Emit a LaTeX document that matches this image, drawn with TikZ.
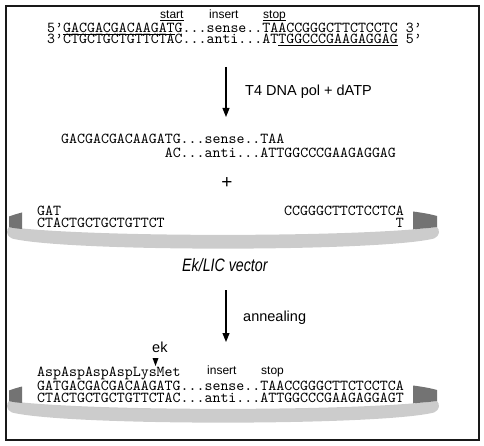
\documentclass[tikz,border=0pt]{standalone}
\usepackage{fontspec}
\setmainfont{Liberation Sans}
\newfontfamily\seqfont{lmmono10-regular.otf}
\newfontfamily\vecfont[FakeStretch=0.79]{Liberation Sans}
\usetikzlibrary{arrows.meta}
\tikzset{
    lic frame/.style={line width=2.4pt, black!90},
    lic seq/.style={font=\seqfont\fontsize{15.18}{18}\selectfont,
                    anchor=base west, inner sep=0pt,
                    text height=9pt, text depth=1pt},
    lic lbl/.style={font=\fontsize{12}{14}\selectfont,
                    anchor=base west, inner sep=0pt},
    lic step/.style={font=\fontsize{14.5}{17}\selectfont,
                     anchor=base west, inner sep=0pt},
    lic vlbl/.style={font=\vecfont\itshape\fontsize{18}{20}\selectfont,
                     anchor=base west, inner sep=0pt},
    lic arrow/.style={-{Triangle[length=9pt, width=7pt]}, line width=1.1pt},
    lic flap/.style={fill=black!55},
    lic band/.style={fill=black!20},
    lic site/.style={fill=black},
}

\begin{document}
\begin{tikzpicture}[x=1pt, y=-1pt]
    \useasboundingbox (0,0) rectangle (484,446);
    \draw[lic frame] (6,6) rectangle (479,440);
    % Insert with overhangs
    \node[lic lbl] (lstart) at (160,19) {\underline{\smash{start}}};
    \node[lic lbl] (lins) at (209,19) {insert};
    \node[lic lbl] (lstop) at (263,19) {\underline{\smash{stop}}};
    \node[lic seq] (top5) at (47,33)
        {5’\underline{GACGACGACAAGAT}G...sense..TAACCGGGCTTCTCCTC 3’};
    \node[lic seq] (top3) at (47,44)
        {3’CTGCTGCTGTTCTAC...anti...AT\underline{TGGCCCGAAGAGGAG} 5’};
    % T4 step
    \coordinate (a1top) at (226,67);
    \coordinate (a1bot) at (226,117);
    \draw[lic arrow] (a1top) -- (a1bot);
    \node[lic step] (t4) at (245,96) {T4 DNA pol + dATP};
    % Treated insert
    \node[lic seq] (mid5) at (61,144) {GACGACGACAAGATG...sense..TAA};
    \node[lic seq] (mid3) at (164.6,158) {AC...anti...ATTGGCCCGAAGAGGAG};
    \node[font=\fontsize{19}{21}\selectfont, inner sep=0pt] (plus) at (227,183) {+};
    % Vector
    \fill[lic band] (9,227) .. controls (90,237.5) and (356,237.5) .. (437,227)
        .. controls (440,230) and (440,236) .. (434,238.5)
        .. controls (380,252) and (66,252) .. (12,238.5)
        .. controls (6,236) and (6,230) .. (9,227) -- cycle;
    \fill[lic flap] (9,216.5) .. controls (13,215) and (18,213.5) .. (22,212.5)
        -- (22,229) .. controls (17,228.5) and (12,228) .. (9,227) -- cycle;
    \fill[lic flap] (413,211.5) .. controls (421,212.5) and (430,214) .. (437,216)
        -- (437,227) .. controls (430,228) and (421,228.7) .. (413,229.3) -- cycle;
    \node[lic seq] (v5l) at (37,215) {GAT};
    \node[lic seq] (v3l) at (37,228) {CTACTGCTGCTGTTCT};
    \node[lic seq] (v5r) at (284,215) {CCGGGCTTCTCCTCA};
    \node[lic seq] (v3r) at (395.7,228) {T};
    \node[lic vlbl] (vec) at (182,271) {Ek/LIC vector};
    % Annealing step
    \coordinate (a2top) at (226,290);
    \coordinate (a2bot) at (226,342);
    \draw[lic arrow] (a2top) -- (a2bot);
    \node[lic step] (ann) at (243,321) {annealing};
    % Annealed product
    \begin{scope}[shift={(0,174)}]
        \fill[lic band] (9,227) .. controls (90,237.5) and (356,237.5) .. (437,227)
            .. controls (440,230) and (440,236) .. (434,238.5)
            .. controls (380,252) and (66,252) .. (12,238.5)
            .. controls (6,236) and (6,230) .. (9,227) -- cycle;
        \fill[lic flap] (9,216.5) .. controls (13,215) and (18,213.5) .. (22,212.5)
            -- (22,229) .. controls (17,228.5) and (12,228) .. (9,227) -- cycle;
        \fill[lic flap] (413,211.5) .. controls (421,212.5) and (430,214) .. (437,216)
            -- (437,227) .. controls (430,228) and (421,228.7) .. (413,229.3) -- cycle;
    \end{scope}
    \node[lic step] (ek) at (152,352) {ek};
    \fill[lic site] (152.5,358) -- (158.5,358) -- (155.5,366) -- cycle;
    \node[lic seq] (prot) at (37,376) {AspAspAspAspLysMet};
    \node[lic lbl] (bins) at (207,374) {insert};
    \node[lic lbl] (bstop) at (261,374) {stop};
    \node[lic seq] (bot5) at (37,390)
        {GATGACGACGACAAGATG...sense..TAACCGGGCTTCTCCTCA};
    \node[lic seq] (bot3) at (37,402)
        {CTACTGCTGCTGTTCTAC...anti...ATTGGCCCGAAGAGGAGT};
\end{tikzpicture}
\end{document}
